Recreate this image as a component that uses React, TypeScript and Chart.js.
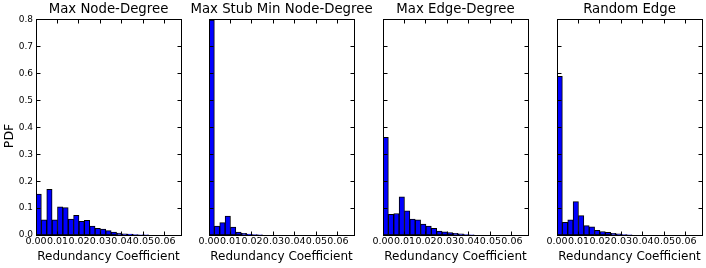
import React, { useEffect, useRef } from "react";
import { Chart, registerables } from "chart.js";

Chart.register(...registerables);

const FONT = "'DejaVu Sans', 'Liberation Sans', sans-serif";

const panelTitles = [
  "Max Node-Degree",
  "Max Stub Min Node-Degree",
  "Max Edge-Degree",
  "Random Edge",
];
const xAxisLabel = "Redundancy Coefficient";
const yAxisLabel = "PDF";

// histogram bin width and range (x axis: Redundancy Coefficient)
const binWidth = 0.0025;
const xMax = 0.0675;

const maxNodeDegree = [
  0.152, 0.056, 0.170, 0.056, 0.105, 0.102, 0.059, 0.073, 0.051, 0.055,
  0.033, 0.025, 0.022, 0.016, 0.011, 0.007, 0.004, 0.003, 0.002, 0.001,
  0.0005, 0, 0, 0, 0, 0, 0,
];
const maxStubMinNodeDegree = [
  0.80, 0.033, 0.046, 0.070, 0.029, 0.011, 0.006, 0.003, 0.002, 0.001,
  0, 0, 0, 0, 0, 0, 0, 0, 0, 0, 0, 0, 0, 0, 0, 0, 0,
];
const maxEdgeDegree = [
  0.363, 0.077, 0.080, 0.142, 0.090, 0.059, 0.056, 0.041, 0.033, 0.025,
  0.015, 0.012, 0.009, 0.006, 0.004, 0.002, 0.001, 0, 0, 0,
  0, 0, 0, 0, 0, 0, 0,
];
const randomEdge = [
  0.590, 0.047, 0.056, 0.124, 0.072, 0.035, 0.030, 0.017, 0.013, 0.010,
  0.006, 0.004, 0.002, 0.001, 0, 0, 0, 0, 0, 0,
  0, 0, 0, 0, 0, 0, 0,
];

const panelValues = [maxNodeDegree, maxStubMinNodeDegree, maxEdgeDegree, randomEdge];

const xTickStep = 0.01;
const yMax = 0.8;
const yTickStep = 0.1;

// layout
const AXIS_W = 36;
const CANVAS_W = 217;
const CANVAS_H = 268;
const axesLefts = [36, 209, 383, 557];

const frameAndTicks = {
  id: "frameAndTicks",
  afterDatasetsDraw(chart: any) {
    const { ctx, chartArea: a, scales } = chart;
    const xs = scales.x;
    const ys = scales.y;
    const L = Math.floor(a.left) + 0.5;
    const R = Math.floor(a.right) + 0.5;
    const T = Math.floor(a.top) + 0.5;
    const B = Math.floor(a.bottom) + 0.5;
    const tl = 4;
    ctx.save();
    ctx.strokeStyle = "#000";
    ctx.lineWidth = 1;
    ctx.beginPath();
    for (const t of xs.ticks) {
      const px = Math.floor(xs.getPixelForValue(t.value)) + 0.5;
      ctx.moveTo(px, B);
      ctx.lineTo(px, B - tl);
      ctx.moveTo(px, T);
      ctx.lineTo(px, T + tl);
    }
    for (const t of ys.ticks) {
      const py = Math.floor(ys.getPixelForValue(t.value)) + 0.5;
      ctx.moveTo(L, py);
      ctx.lineTo(L + tl, py);
      ctx.moveTo(R, py);
      ctx.lineTo(R - tl, py);
    }
    ctx.stroke();
    ctx.strokeRect(L, T, R - L, B - T);
    ctx.restore();
  },
};

// y-axis label, placed like matplotlib's (slightly below the axes centre)
const yLabelPlugin = {
  id: "yLabel",
  afterDraw(chart: any, _args: any, opts: any) {
    if (!opts || !opts.text) return;
    const { ctx, chartArea: a } = chart;
    ctx.save();
    ctx.fillStyle = "#000";
    ctx.font = `12.5px ${FONT}`;
    ctx.textAlign = "center";
    ctx.textBaseline = "middle";
    ctx.translate(10, (a.top + a.bottom) / 2 + 8.5);
    ctx.rotate(-Math.PI / 2);
    ctx.fillText(opts.text, 0, 0);
    ctx.restore();
  },
};

function Panel({ index }: { index: number }) {
  const ref = useRef<HTMLCanvasElement>(null);
  useEffect(() => {
    const values = panelValues[index];
    const first = index === 0;
    const chart = new Chart(ref.current as HTMLCanvasElement, {
      type: "bar",
      data: {
        datasets: [
          {
            data: values.map((v, i) => ({ x: (i + 0.5) * binWidth, y: v })),
            backgroundColor: "#0000ff",
            borderColor: "#000000",
            borderWidth: 1,
            borderSkipped: false,
            barPercentage: 1,
            categoryPercentage: 1,
          } as any,
        ],
      },
      options: {
        responsive: false,
        animation: false,
        events: [],
        layout: { padding: 0 },
        plugins: {
          legend: { display: false },
          tooltip: { enabled: false },
          title: {
            display: true,
            text: panelTitles[index],
            color: "#000",
            font: { family: FONT, size: 13.3, weight: "normal" },
            padding: { top: 2, bottom: 2 },
          },
          yLabel: { text: first ? yAxisLabel : "" },
        },
        scales: {
          x: {
            type: "linear",
            min: 0,
            max: xMax,
            offset: false,
            grid: { display: false, drawTicks: false },
            border: { display: false },
            ticks: {
              stepSize: xTickStep,
              includeBounds: false,
              autoSkip: false,
              maxRotation: 0,
              minRotation: 0,
              padding: 1,
              color: "#000",
              font: { family: FONT, size: 9.5 },
              callback: (v: any) => Number(v).toFixed(2),
            },
            title: {
              display: true,
              text: xAxisLabel,
              color: "#000",
              font: { family: FONT, size: 12 },
              padding: { top: 0, bottom: 4.3 },
            },
            afterFit: (s: any) => {
              s.height = 33;
            },
          },
          y: {
            type: "linear",
            position: "left",
            min: 0,
            max: yMax,
            grid: { display: false, drawTicks: false },
            border: { display: false },
            ticks: {
              display: first,
              stepSize: yTickStep,
              padding: 3,
              color: "#000",
              font: { family: FONT, size: 9 },
              callback: (v: any) => Number(v).toFixed(1),
            },
            title: { display: false },
            afterFit: (s: any) => {
              s.width = AXIS_W;
            },
          },
          y2: {
            type: "linear",
            position: "right",
            display: true,
            grid: { display: false, drawTicks: false },
            border: { display: false },
            ticks: { display: false },
            afterFit: (s: any) => {
              s.width = AXIS_W;
            },
          },
        },
      } as any,
      plugins: [frameAndTicks, yLabelPlugin],
    });
    return () => chart.destroy();
  }, [index]);
  return (
    <canvas
      ref={ref}
      width={CANVAS_W}
      height={CANVAS_H}
      style={{
        position: "absolute",
        left: axesLefts[index] - AXIS_W,
        top: 0,
        width: CANVAS_W,
        height: CANVAS_H,
      }}
    />
  );
}

export default function App() {
  return (
    <div
      style={{
        position: "fixed",
        left: 0,
        top: 0,
        width: 706,
        height: 268,
        overflow: "hidden",
        background: "#fff",
      }}
    >
      {panelTitles.map((_, i) => (
        <Panel key={i} index={i} />
      ))}
    </div>
  );
}
